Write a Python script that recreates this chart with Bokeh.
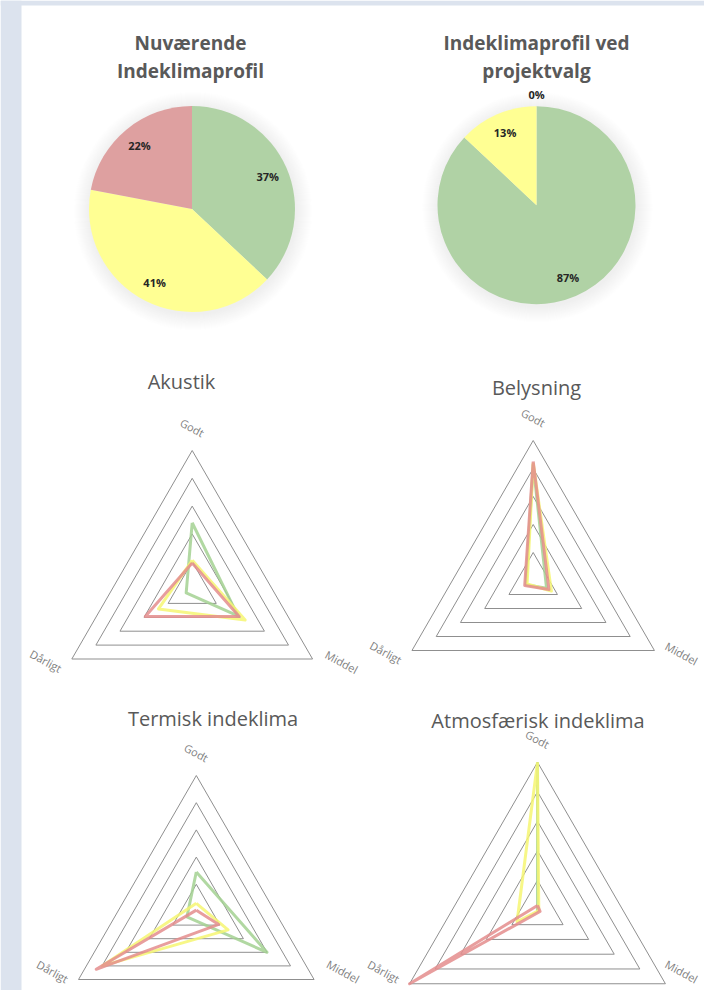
import math
from bokeh.plotting import figure
from bokeh.models import Range1d
from bokeh.core.properties import value
from bokeh.embed import file_html
from bokeh.resources import INLINE

# ---------------- data ----------------
pie_titles = [["Nuværende", "Indeklimaprofil"], ["Indeklimaprofil ved", "projektvalg"]]
pie_classes = ["Godt", "Middel", "Dårligt"]
pie_now = [37, 41, 22]
pie_project = [87, 13, 0]

radar_titles = ["Akustik", "Belysning", "Termisk indeklima", "Atmosfærisk indeklima"]
radar_axes = ["Godt", "Middel", "Dårligt"]
akustik_green = [2.4, 1.9, 0.25]
akustik_yellow = [1.05, 2.2, 1.4]
akustik_red = [0.95, 1.95, 1.95]
belysning_green = [4.15, 0.55, 0.3]
belysning_yellow = [4.2, 0.75, 0.25]
belysning_red = [4.25, 0.65, 0.35]
termisk_green = [1.45, 3.0, 0.4]
termisk_yellow = [0.3, 1.35, 4.0]
termisk_red = [0.05, 0.95, 4.25]
atmos_green = [5.0, 0.0, 0.0]
atmos_yellow = [5.0, 0.05, 0.8]
atmos_red = [0.15, 0.1, 5.0]
radar_max = 5
ring_levels = [1, 2, 3, 4, 5]

# ---------------- styles ----------------
PIE_COLORS = ["#b0d2a5", "#ffff93", "#dea0a0"]
LINE_COLORS = ["#a3d192", "#f6f672", "#e48d8d"]
TITLE_COLOR = "#595959"
FONT = value("Open Sans")

# data coordinates = picture pixels (y flipped)
W, H = 704, 990
p = figure(width=W, height=H, output_backend="svg", toolbar_location=None,
           x_range=Range1d(0, W), y_range=Range1d(1006 - H, 1006),
           min_border=0, background_fill_color="white", border_fill_color="white")
p.axis.visible = False
p.grid.visible = False
p.outline_line_color = None


def fy(y):  # picture-pixel y (down) -> data y (up)
    return 1006 - y


# page background strips (left and top)
p.quad(left=[0, 0], right=[21, W], bottom=[fy(1006), fy(5)], top=[fy(0), fy(0)],
       fill_color="#dce3ee", line_color=None)

# ---------------- pies ----------------
pie_geo = [(191.5, 208.5, 103), (536, 204.7, 99)]
pie_title_pos = [(190, 42, 70), (536, 42, 70)]
for (cx, cy, r), vals, titles, (tx, ty1, ty2) in zip(pie_geo, [pie_now, pie_project], pie_titles, pie_title_pos):
    # soft shadow halo
    for i in range(16, 0, -1):
        p.circle(x=[cx + 1], y=[fy(cy + 2)], radius=r + i, fill_color="#8a8a8a",
                 fill_alpha=0.013, line_color=None)
    total = float(sum(vals))
    cum = 0.0
    for v, col in zip(vals, PIE_COLORS):
        c0, c1 = cum / total, (cum + v) / total
        if v > 0:
            p.wedge(x=[cx], y=[fy(cy)], radius=r,
                    start_angle=math.pi / 2 - 2 * math.pi * c1,
                    end_angle=math.pi / 2 - 2 * math.pi * c0,
                    fill_color=col, line_color=None)
        mid = math.pi / 2 - math.pi * (c0 + c1)
        rr = 0.8 * r if v > 0 else 1.12 * r
        p.text(x=[cx + rr * math.cos(mid)], y=[fy(cy) + rr * math.sin(mid)], text=[f"{v}%"],
               text_font=FONT, text_font_size="11px", text_font_style="bold",
               text_color="#262626", text_align="center", text_baseline="middle")
        cum += v
    p.text(x=[tx, tx], y=[fy(ty1), fy(ty2)], text=titles, text_font=FONT,
           text_font_size="19px", text_font_style="bold", text_color=TITLE_COLOR,
           text_align="center", text_baseline="alphabetic")

# ---------------- radars ----------------
radar_geo = [(191.7, 589, 139), (532.7, 580, 140), (195.8, 911, 136), (537, 909.4, 147.7)]
radar_title_pos = [(181, 381), (536, 387), (212.5, 718), (537.5, 719.5)]
radar_series = [
    [akustik_green, akustik_yellow, akustik_red],
    [belysning_green, belysning_yellow, belysning_red],
    [termisk_green, termisk_yellow, termisk_red],
    [atmos_green, atmos_yellow, atmos_red],
]
axis_angles = [math.pi / 2, -math.pi / 6, 7 * math.pi / 6]
label_offsets = [(0, 23), (29, -3), (-26, -2)]

for (cx, cyr, R), title, (tx, ty), series in zip(radar_geo, radar_titles, radar_title_pos, radar_series):
    cy = fy(cyr)

    def pt(v, a):
        return cx + v / radar_max * R * math.cos(a), cy + v / radar_max * R * math.sin(a)

    xs, ys = [], []
    for lv in ring_levels:
        pts = [pt(lv, a) for a in axis_angles] + [pt(lv, axis_angles[0])]
        xs.append([q[0] for q in pts])
        ys.append([q[1] for q in pts])
    p.multi_line(xs=xs, ys=ys, line_color="#8f8f8f", line_width=1)

    for vals, col in zip(series, LINE_COLORS):
        pts = [pt(v, a) for v, a in zip(vals, axis_angles)]
        pts.append(pts[0])
        p.line(x=[q[0] for q in pts], y=[q[1] for q in pts], line_color=col,
               line_width=3, line_alpha=0.85, line_join="round")

    for lab, a, (dx, dy) in zip(radar_axes, axis_angles, label_offsets):
        vx, vy = pt(radar_max, a)
        lx = min(vx + dx, W - 23)
        ly = max(vy + dy, fy(971))
        p.text(x=[lx], y=[ly], text=[lab], text_font=FONT, text_font_size="11px",
               text_color="#7f7f7f", text_align="center", text_baseline="middle", angle=-0.5)

    p.text(x=[tx], y=[fy(ty)], text=[title], text_font=FONT, text_font_size="20px",
           text_color=TITLE_COLOR, text_align="center", text_baseline="alphabetic")

open("out.html", "w").write(file_html(p, INLINE))
